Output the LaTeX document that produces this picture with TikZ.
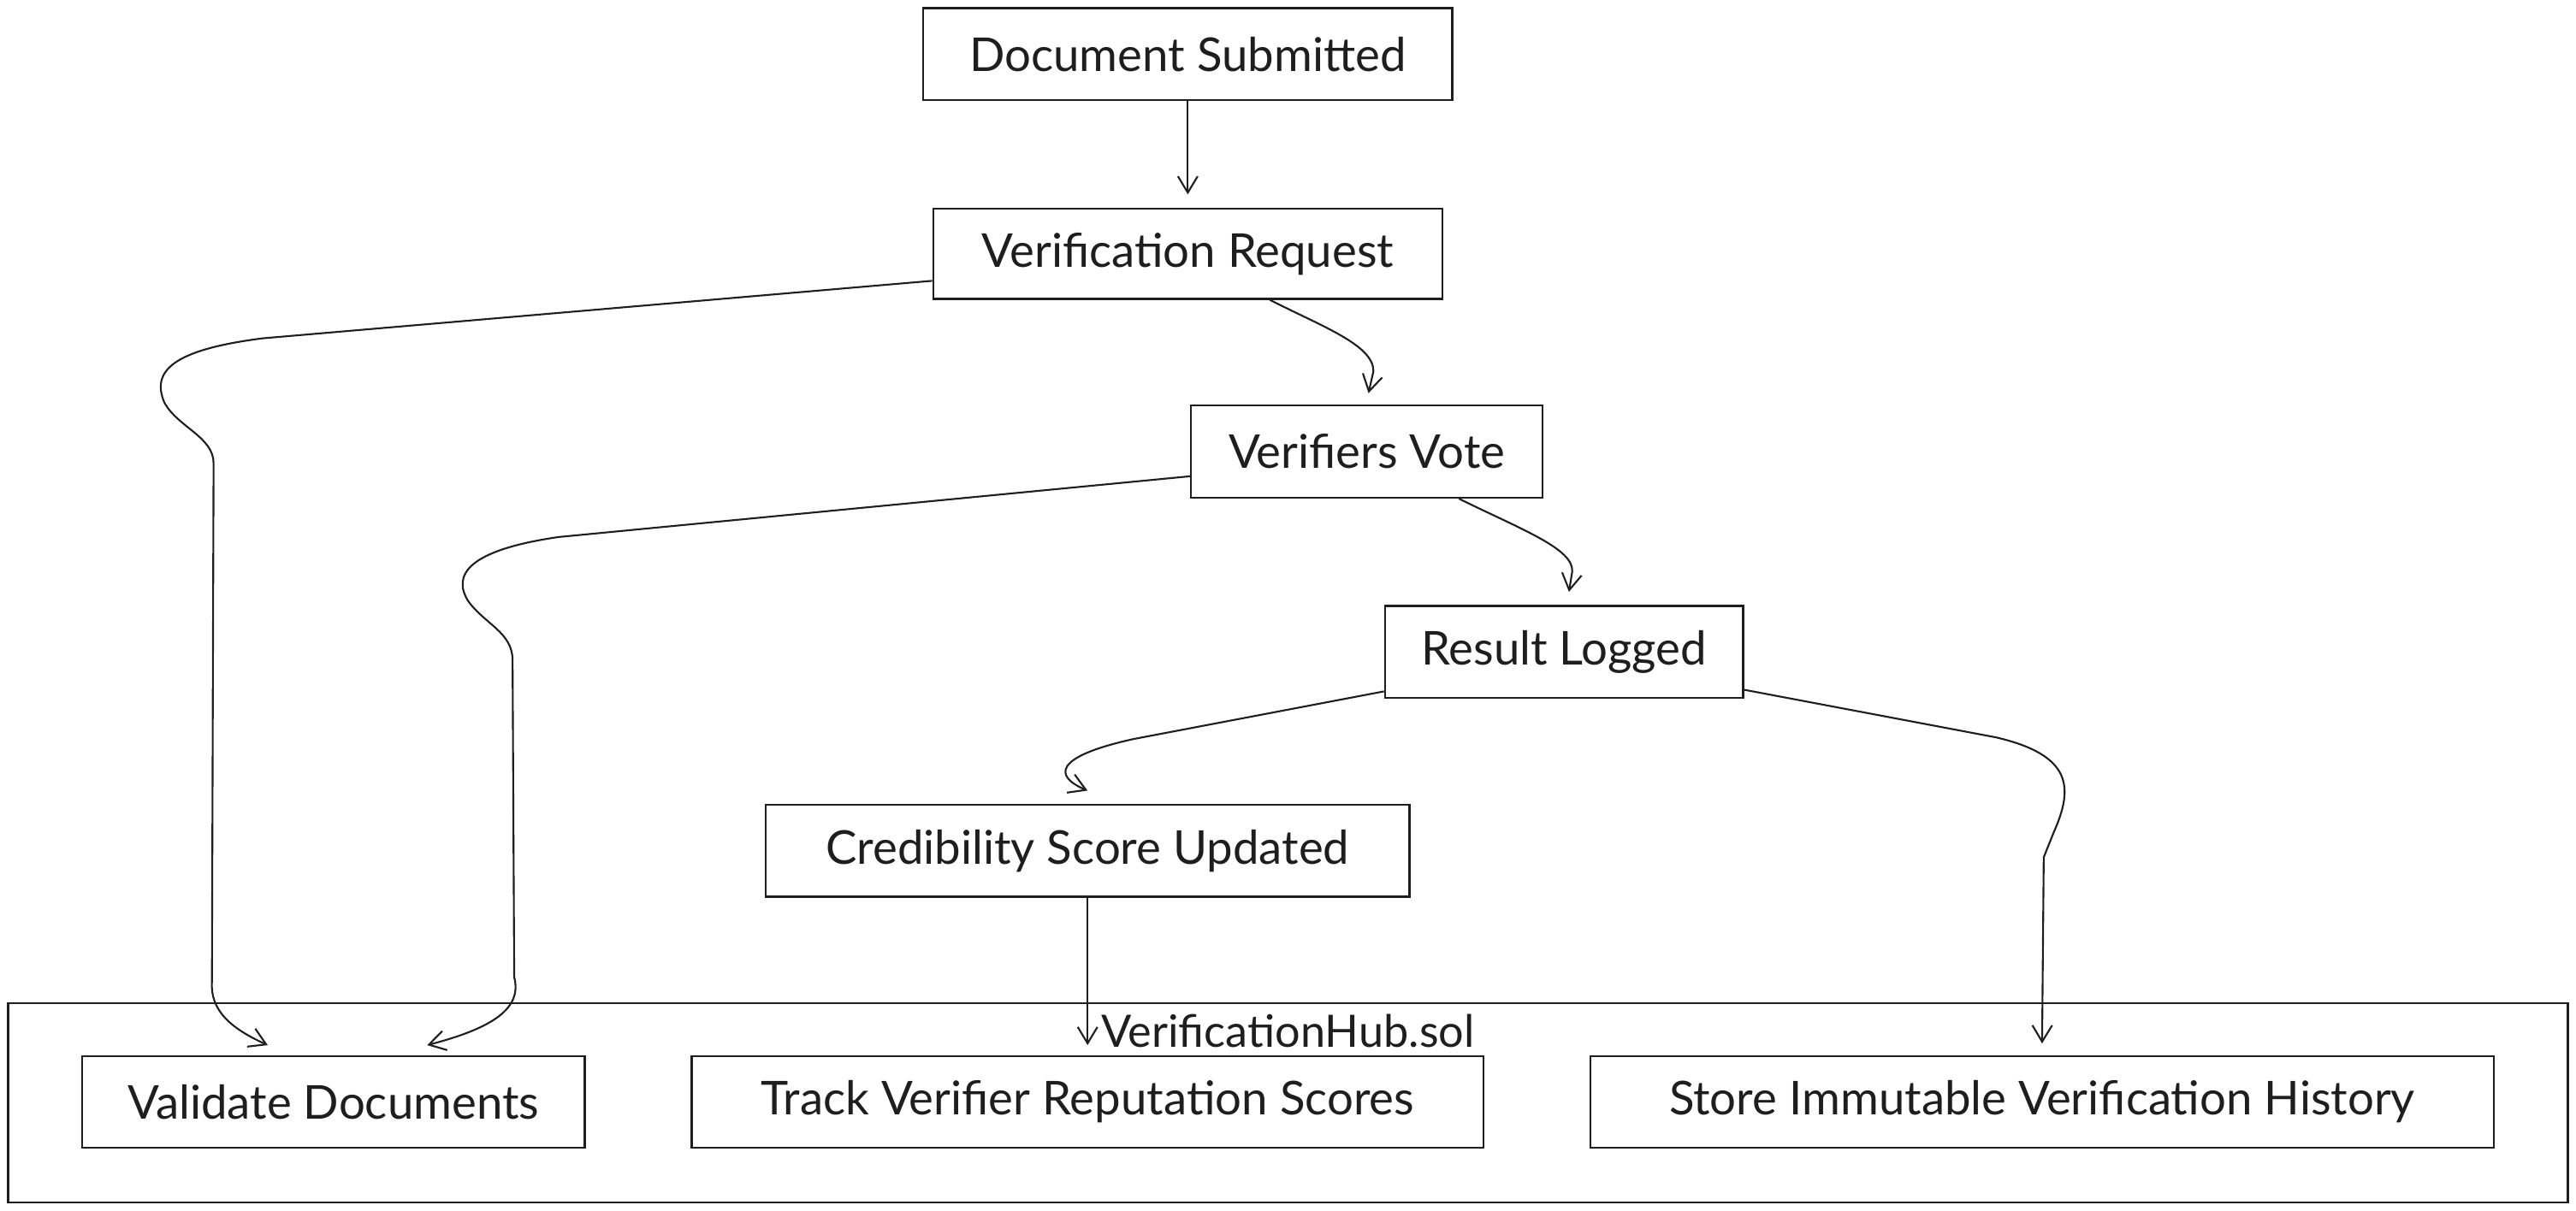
\documentclass[tikz,border=0pt]{standalone}
\usepackage{fontspec}
\setmainfont{Lato}
\usetikzlibrary{arrows.meta,calc}
\definecolor{ink}{HTML}{1E1E1E}
\tikzset{
  box/.style={draw=ink, line width=0.6pt, fill=white, inner sep=0pt, font=\fontsize{14.2}{16}\selectfont, text=ink},
  conn/.style={draw=ink, line width=0.55pt, -{Straight Barb[length=5pt,width=6pt]}},
}
\begin{document}
\begin{tikzpicture}[x=0.5pt,y=-0.5pt]
\useasboundingbox (0,0) rectangle (1568,736.9);
% container
\node[draw=ink, line width=0.6pt, inner sep=0pt, minimum width=779pt, minimum height=60.5pt] (hub) at (784,671.5) {};
\node[anchor=west, inner sep=0pt, font=\fontsize{13.6}{15}\selectfont, text=ink] (hublabel) at (670,628) {VerificationHub.sol};
% nodes
\node[box, minimum width=161pt, minimum height=28pt] (ds) at (723,33) {Document Submitted};
\node[box, minimum width=155pt, minimum height=27.5pt] (vr) at (723,154.5) {Verification Request};
\node[box, minimum width=107pt, minimum height=28pt] (vv) at (832,275) {Verifiers Vote};
\node[box, minimum width=109pt, minimum height=28pt] (rl) at (952,397) {Result Logged};
\node[box, minimum width=196pt, minimum height=28pt] (csu) at (662,518) {Credibility Score Updated};
\node[box, minimum width=153pt, minimum height=28pt] (vd) at (203,671) {Validate Documents};
\node[box, minimum width=241pt, minimum height=28pt] (tr) at (662,671) {Track Verifier Reputation Scores};
\node[box, minimum width=275pt, minimum height=28pt] (st) at (1243,671) {Store Immutable Verification History};
% connectors
\draw[conn] (ds.south) -- ($(vr.north)+(0,-8)$);
\draw[conn] ($(vr.south)+(50,0)$) .. controls (805,199) and (836,210) .. (836,226) -- ($(vv.north)+(1,-7)$);
\draw[conn] ($(vr.west)+(0,16.5)$) -- (160,206) .. controls (105,213) and (92,226) .. (100,245) .. controls (108,260) and (130,266) .. (130,282) -- (129,598) .. controls (128,615) and (140,626) .. ($(vd.north)+(-40,-6)$);
\draw[conn] ($(vv.south)+(56,0)$) .. controls (925,322) and (958,334) .. (957,348) -- ($(rl.north)+(3,-8)$);
\draw[conn] ($(vv.west)+(0,15)$) -- (340,327) .. controls (285,335) and (275,350) .. (285,366) .. controls (295,380) and (312,385) .. (312,402) -- (313,595) .. controls (318,614) and (300,626) .. ($(vd.north)+(57,-6)$);
\draw[conn] ($(rl.west)+(0,24)$) -- (690,450) .. controls (640,461) and (642,473) .. ($(csu.north)+(0,-8)$);
\draw[conn] ($(rl.east)+(0,23)$) -- (1215,449) .. controls (1262,460) and (1262,480) .. (1250,507) -- (1244,522) -- ($(st.north)+(0,-7)$);
\draw[conn] (csu.south) -- ($(tr.north)+(0,-6)$);
\end{tikzpicture}
\end{document}
